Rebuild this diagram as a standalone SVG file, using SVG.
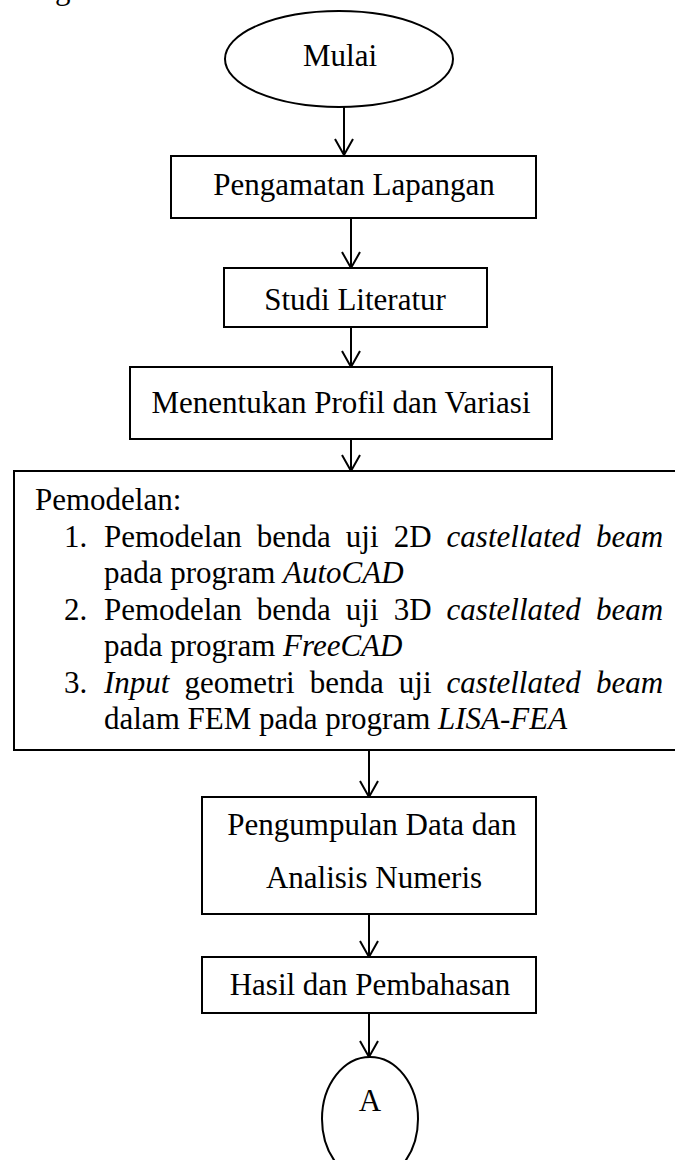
<svg xmlns="http://www.w3.org/2000/svg" width="675" height="1160" viewBox="0 0 675 1160">
  <style>
    text { font-family: "Liberation Serif", "Times New Roman", serif; font-size: 31px; fill: #000; }
    .mid { text-anchor: middle; }
    .it { font-style: italic; }
    .shape { fill: #fff; stroke: #000; stroke-width: 2; }
    .conn line, .conn polyline { fill: none; stroke: #000; stroke-width: 2; }
    .just { word-spacing: 7.3px; }
  </style>

  <!-- trailing line of the paragraph above the chart -->
  <text x="0" y="-1" fill="#444">sebagai berikut:</text>

  <!-- connectors: shaft plus open V arrowhead -->
  <g id="connectors" class="conn">
    <line x1="344" y1="107" x2="344" y2="155"/>
    <polyline points="335,139 344,155 353,139"/>
    <line x1="351" y1="218" x2="351" y2="268"/>
    <polyline points="342,252 351,268 360,252"/>
    <line x1="351" y1="327" x2="351" y2="367"/>
    <polyline points="342,351 351,367 360,351"/>
    <line x1="351" y1="439" x2="351" y2="471"/>
    <polyline points="342,455 351,471 360,455"/>
    <line x1="369" y1="750" x2="369" y2="797"/>
    <polyline points="360,781 369,797 378,781"/>
    <line x1="369" y1="914" x2="369" y2="957"/>
    <polyline points="360,941 369,957 378,941"/>
    <line x1="369" y1="1013" x2="369" y2="1057"/>
    <polyline points="360,1041 369,1057 378,1041"/>
  </g>

  <g id="mulai">
    <ellipse class="shape" cx="339" cy="59" rx="114" ry="48"/>
    <text class="mid" x="340" y="66">Mulai</text>
  </g>

  <g id="pengamatan">
    <rect class="shape" x="171" y="156" width="365" height="62"/>
    <text class="mid" x="354" y="195">Pengamatan Lapangan</text>
  </g>

  <g id="studi">
    <rect class="shape" x="224" y="268" width="263" height="59"/>
    <text class="mid" x="355" y="310">Studi Literatur</text>
  </g>

  <g id="profil">
    <rect class="shape" x="130" y="367" width="422" height="72"/>
    <text class="mid" x="341" y="413">Menentukan Profil dan Variasi</text>
  </g>

  <g id="pemodelan">
    <rect class="shape" x="14" y="471" width="680" height="279"/>
    <text x="35" y="510">Pemodelan:</text>
    <text x="64" y="547">1.</text>
    <text class="just" x="104" y="547">Pemodelan benda uji 2D <tspan class="it">castellated beam</tspan></text>
    <text x="104" y="583">pada program <tspan class="it">AutoCAD</tspan></text>
    <text x="64" y="620">2.</text>
    <text class="just" x="104" y="620">Pemodelan benda uji 3D <tspan class="it">castellated beam</tspan></text>
    <text x="104" y="656">pada program <tspan class="it">FreeCAD</tspan></text>
    <text x="64" y="693">3.</text>
    <text class="just" x="104" y="693"><tspan class="it">Input</tspan> geometri benda uji <tspan class="it">castellated beam</tspan></text>
    <text x="104" y="729">dalam FEM pada program <tspan class="it">LISA-FEA</tspan></text>
  </g>

  <g id="pengumpulan">
    <rect class="shape" x="202" y="797" width="334" height="117"/>
    <text class="mid" x="372" y="835">Pengumpulan Data dan</text>
    <text class="mid" x="374" y="888">Analisis Numeris</text>
  </g>

  <g id="hasil">
    <rect class="shape" x="202" y="957" width="334" height="56"/>
    <text class="mid" x="370" y="995">Hasil dan Pembahasan</text>
  </g>

  <g id="konektor-a">
    <ellipse class="shape" cx="370" cy="1119" rx="48" ry="62"/>
    <text class="mid" x="370" y="1111">A</text>
  </g>
</svg>
